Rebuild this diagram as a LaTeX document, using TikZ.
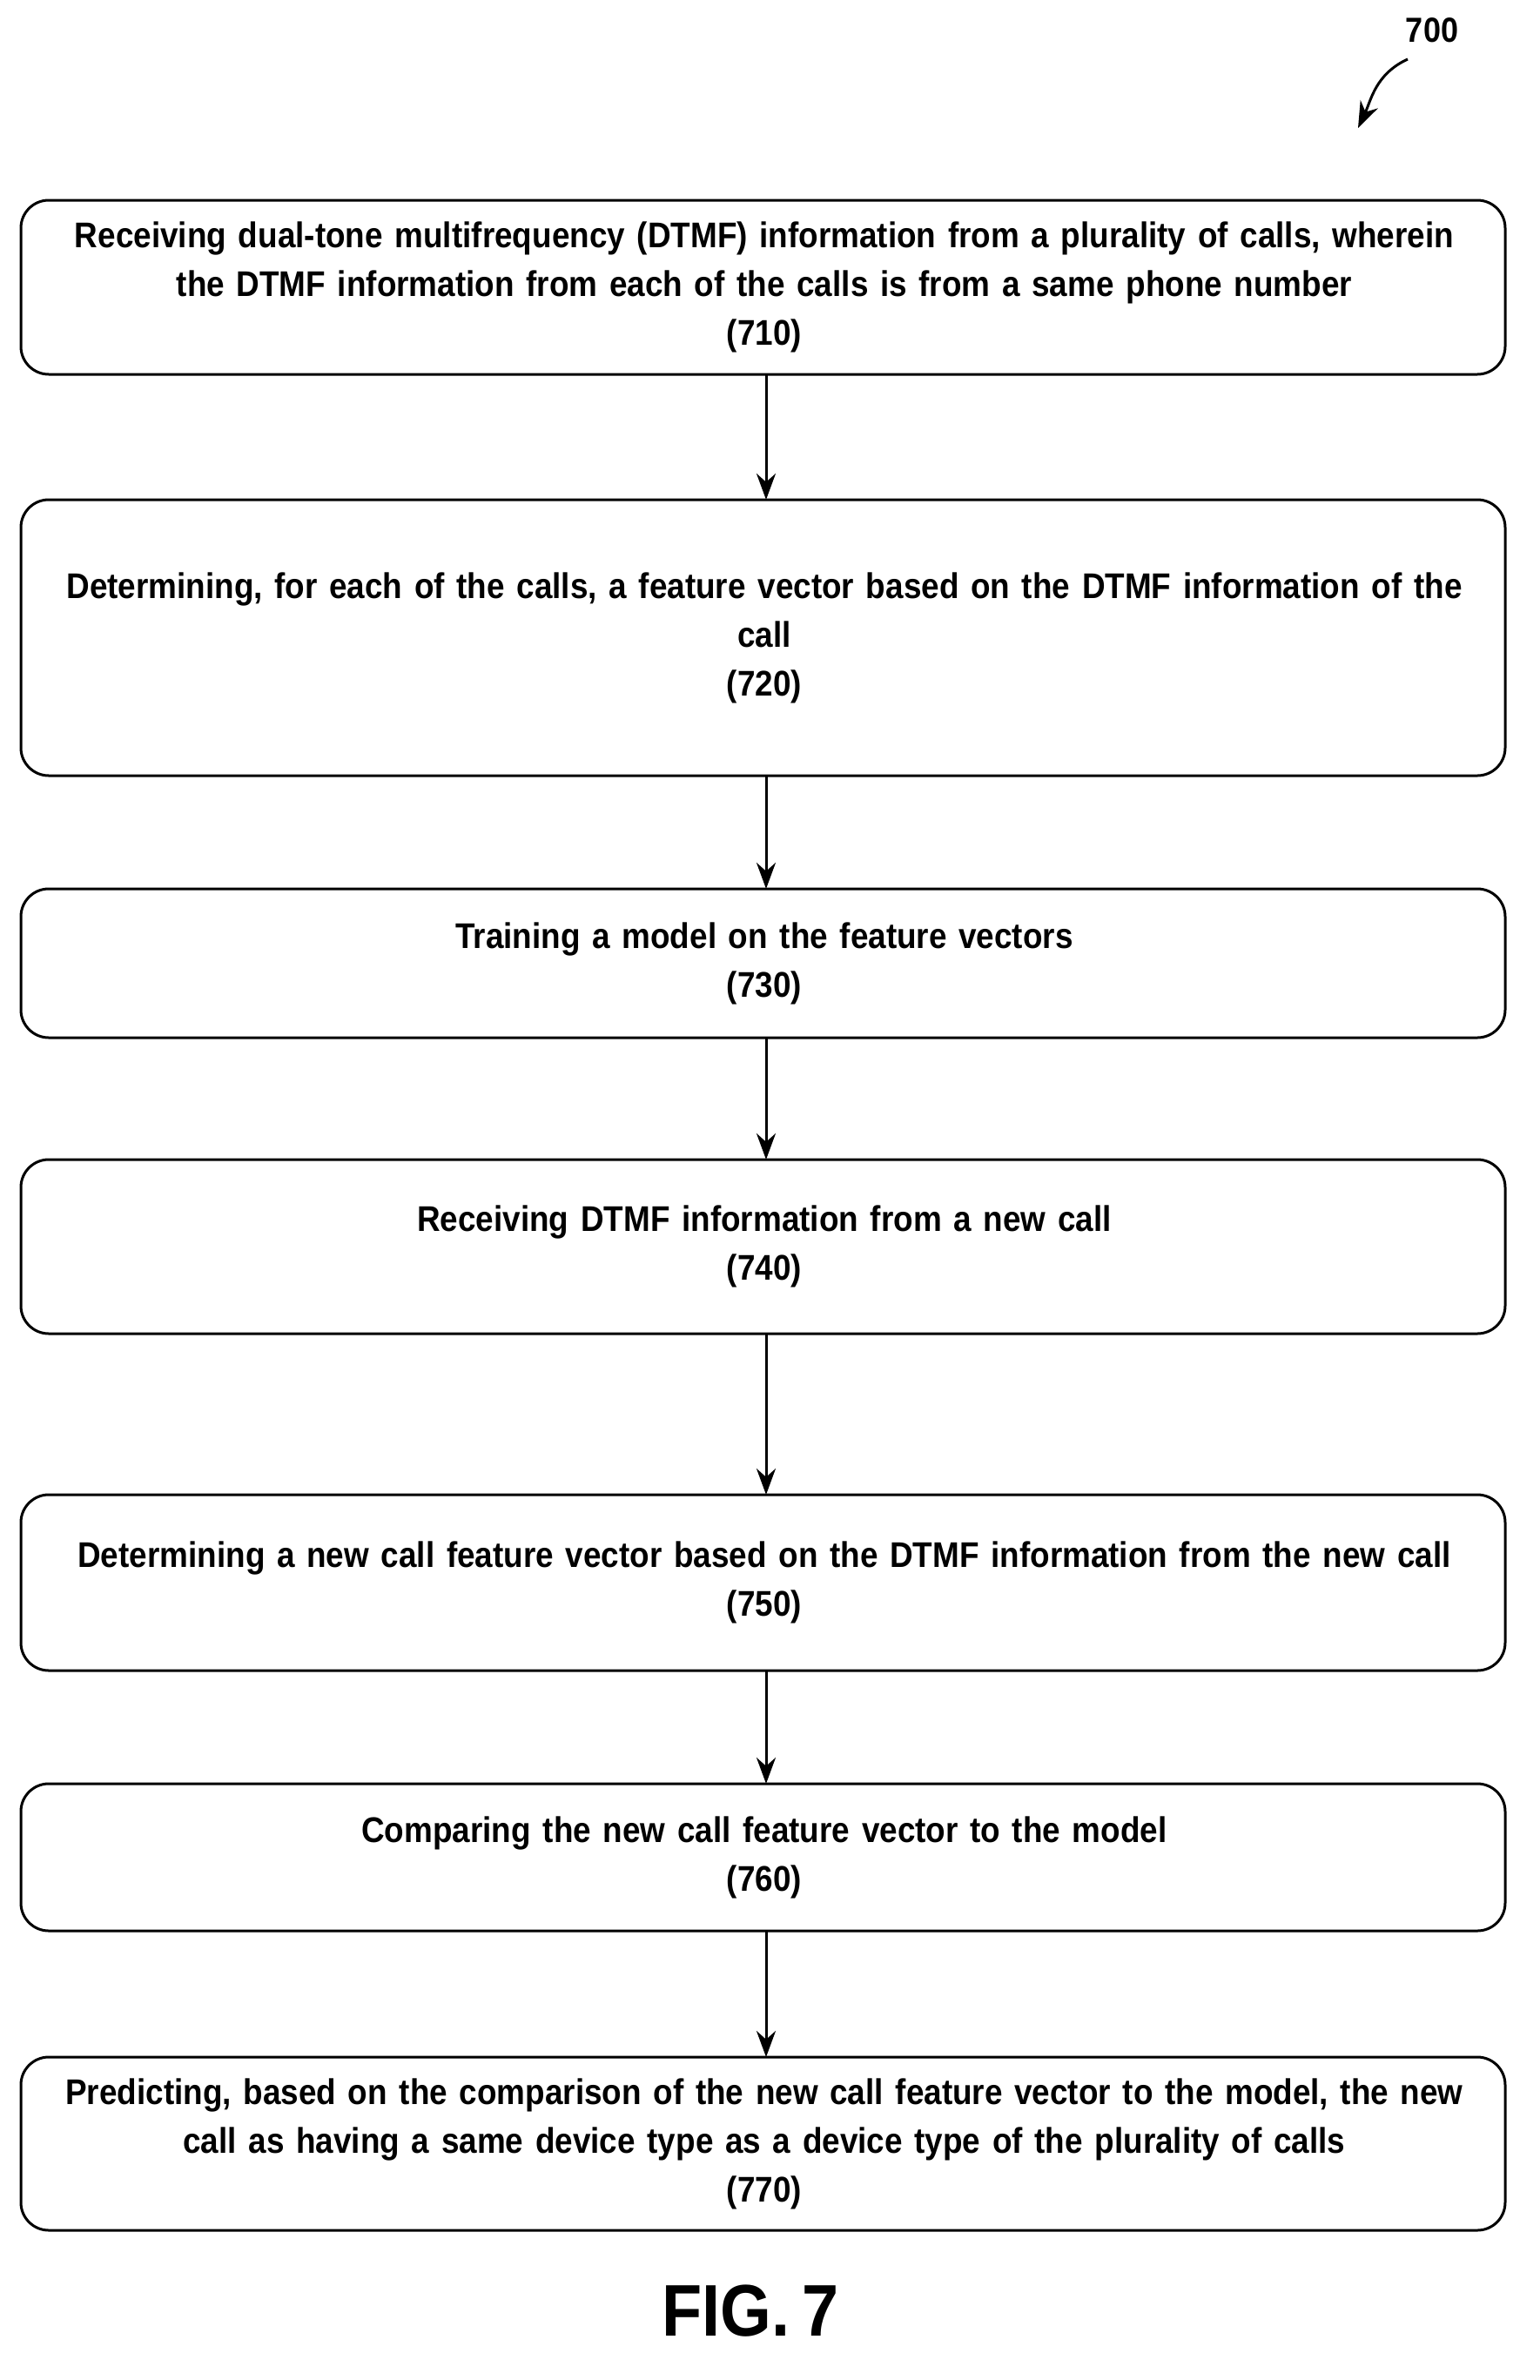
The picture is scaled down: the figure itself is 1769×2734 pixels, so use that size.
\documentclass[tikz,border=0pt]{standalone}
\usepackage{fontspec}
\setmainfont{Liberation Sans}[FakeStretch=0.9,WordSpace=0.7]
\usetikzlibrary{arrows.meta}
\begin{document}
\begin{tikzpicture}[x=1pt,y=-1pt,
box/.style={draw,line width=3pt,rounded corners=32pt},
txt/.style={align=center,font=\fontsize{41}{56}\selectfont\bfseries,text width=1680pt},
arr/.style={line width=3pt,-{Stealth[length=30pt,width=22pt]}}]
\useasboundingbox (0,0) rectangle (1769,2734);
\def\bx#1#2#3#4{\draw[box] (24,#2) rectangle (1729,#3); \node[txt] (#1) at (878,{(#2+#3)/2}) {#4};
\coordinate (#1t) at (880,#2); \coordinate (#1b) at (880,#3);}
\bx{a}{230}{430}{Receiving dual-tone multifrequency (DTMF) information from a plurality of calls, wherein\\the DTMF information from each of the calls is from a same phone number\\(710)}
\bx{b}{574}{891}{Determining, for each of the calls, a feature vector based on the DTMF information of the\\call\\(720)}
\bx{c}{1021}{1192}{Training a model on the feature vectors\\(730)}
\bx{d}{1332}{1532}{Receiving DTMF information from a new call\\(740)}
\bx{e}{1717}{1919}{Determining a new call feature vector based on the DTMF information from the new call\\(750)}
\bx{f}{2049}{2218}{Comparing the new call feature vector to the model\\(760)}
\bx{g}{2363}{2562}{Predicting, based on the comparison of the new call feature vector to the model, the new\\call as having a same device type as a device type of the plurality of calls\\(770)}
\draw[arr] (ab)--(bt); \draw[arr] (bb)--(ct); \draw[arr] (cb)--(dt);
\draw[arr] (db)--(et); \draw[arr] (eb)--(ft); \draw[arr] (fb)--(gt);
\node[font=\fontsize{40}{48}\selectfont\bfseries] (n) at (1645,35) {700};
\coordinate (ne) at (1560,147);
\draw[arr] (1617,68) .. controls (1580,85) and (1575,115) .. (ne);
\node[font=\fontsize{84}{90}\selectfont\bfseries] (fig) at (862,2655) {FIG. 7};
\end{tikzpicture}
\end{document}
